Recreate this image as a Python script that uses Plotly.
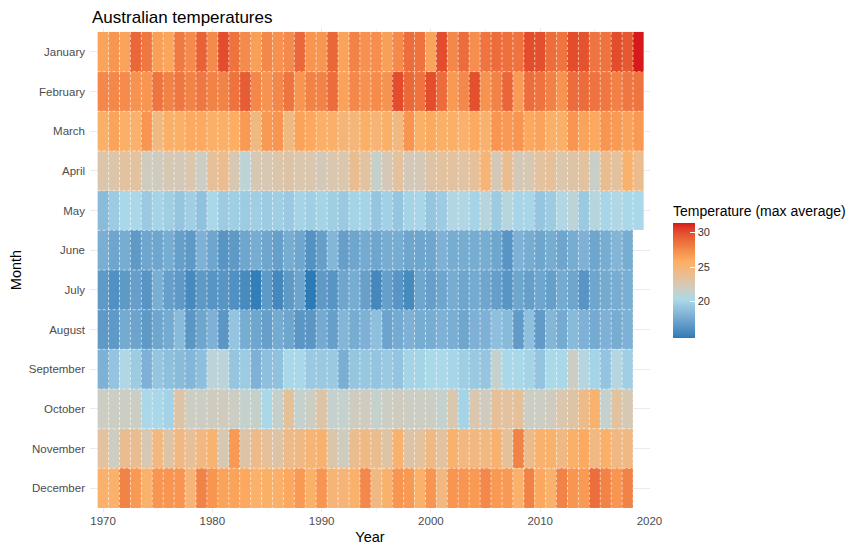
import plotly.graph_objects as go

years = list(range(1970, 2020))
months = ["January", "February", "March", "April", "May", "June", "July",
          "August", "September", "October", "November", "December"]

# monthly max average temperature, 1970..2019 (None = not yet recorded)
jan = [26.3, 27.0, 26.3, 29.0, 28.3, 26.5, 26.2, 28.2, 27.5, 29.2, 27.5, 30.0, 28.5, 27.5, 26.5, 27.6, 27.2,
       27.5, 28.9, 27.0, 27.0, 29.0, 26.3, 27.8, 27.2, 27.3, 26.5, 27.5, 28.7, 28.5, 26.3, 30.0, 27.6, 28.8,
       27.3, 28.4, 28.8, 28.6, 28.5, 30.0, 29.9, 28.7, 28.4, 30.0, 29.8, 28.4, 28.5, 30.0, 29.6, 31.4]
feb = [27.6, 27.6, 27.4, 27.1, 27.0, 28.4, 27.8, 28.3, 27.8, 28.3, 27.8, 27.8, 28.5, 29.4, 27.6, 27.1, 27.6,
       28.4, 27.0, 27.8, 27.8, 28.8, 26.4, 27.6, 27.2, 27.4, 27.1, 30.0, 28.9, 28.5, 30.0, 28.8, 26.8, 27.6,
       29.9, 27.1, 27.8, 29.1, 26.7, 28.7, 28.5, 27.9, 27.1, 28.8, 28.8, 28.5, 28.3, 27.9, 28.3, 28.4]
mar = [25.5, 26.3, 25.6, 25.4, 27.0, 24.5, 25.6, 25.6, 26.0, 26.0, 25.6, 25.6, 25.8, 26.8, 24.5, 26.8, 27.0,
       24.5, 26.3, 26.1, 25.6, 25.5, 25.0, 24.8, 25.6, 25.0, 25.6, 24.5, 27.0, 25.6, 26.0, 25.6, 25.6, 25.4,
       26.0, 25.3, 27.0, 26.8, 27.0, 26.1, 26.3, 25.5, 25.5, 27.0, 26.3, 26.1, 27.0, 26.8, 26.4, 26.8]
apr = [22.8, 22.8, 23.3, 23.3, 22.0, 22.0, 22.5, 22.3, 22.7, 21.8, 23.6, 23.9, 22.5, 21.1, 22.5, 22.5, 22.8,
       23.0, 22.7, 22.7, 22.3, 22.7, 22.7, 23.9, 23.2, 21.5, 22.3, 23.3, 22.3, 22.3, 23.0, 23.3, 23.3, 23.1,
       23.6, 24.9, 22.3, 23.9, 22.3, 22.5, 23.3, 23.6, 22.7, 23.0, 23.3, 21.6, 23.9, 23.3, 25.3, 24.0]
may = [18.6, 19.5, 20.2, 20.2, 19.4, 20.0, 19.7, 19.2, 19.7, 18.9, 20.2, 19.5, 19.7, 19.5, 19.7, 19.5, 19.7,
       19.4, 20.0, 19.7, 20.0, 19.7, 19.4, 20.0, 20.0, 19.2, 19.8, 19.2, 20.0, 20.1, 19.2, 19.5, 20.5, 20.5,
       20.0, 20.8, 19.5, 20.8, 20.1, 20.1, 19.2, 19.5, 20.5, 21.0, 19.4, 20.8, 20.1, 20.5, 20.2, 20.2]
jun = [17.8, 17.3, 17.7, 16.6, 17.3, 17.3, 17.7, 16.9, 16.6, 18.0, 17.3, 16.3, 16.6, 17.3, 17.7, 17.3, 16.9,
       17.7, 17.3, 16.1, 16.9, 18.3, 16.9, 17.3, 17.6, 17.3, 17.7, 17.7, 17.3, 17.3, 17.3, 18.0, 17.7, 17.7,
       17.7, 17.7, 17.3, 16.3, 18.0, 17.7, 17.3, 17.7, 17.3, 17.7, 18.0, 17.3, 17.7, 18.2, 17.7, None]
jul = [16.6, 16.0, 16.6, 16.9, 16.3, 17.8, 16.9, 16.6, 15.6, 16.6, 16.3, 16.3, 16.0, 15.7, 14.9, 16.6, 15.5,
       16.6, 17.2, 14.7, 16.6, 16.3, 17.3, 17.7, 17.0, 15.5, 16.9, 16.3, 15.6, 17.3, 16.9, 17.3, 17.7, 17.3,
       17.6, 17.3, 16.9, 16.3, 17.3, 16.9, 17.3, 16.9, 17.6, 17.3, 16.3, 17.3, 17.6, 17.7, 17.8, None]
aug = [16.6, 16.6, 17.6, 17.2, 16.6, 17.3, 17.6, 18.5, 16.4, 17.3, 18.0, 16.4, 19.1, 17.7, 17.3, 16.9, 17.6,
       17.3, 16.4, 16.4, 17.6, 16.9, 18.3, 17.7, 18.0, 18.8, 17.2, 17.6, 18.0, 17.7, 17.7, 18.0, 17.8, 17.3,
       18.0, 18.0, 18.8, 18.5, 16.7, 18.8, 16.7, 18.3, 17.6, 18.5, 18.0, 17.6, 18.0, 17.7, 18.0, None]
sep = [18.0, 19.1, 20.5, 19.5, 18.0, 19.2, 18.8, 18.6, 18.3, 18.8, 21.0, 20.9, 19.2, 19.5, 18.0, 18.8, 18.9,
       20.2, 20.2, 19.4, 19.4, 19.4, 17.8, 19.2, 19.3, 19.1, 19.4, 19.1, 20.0, 20.0, 20.3, 20.3, 20.1, 19.7,
       19.4, 19.2, 21.4, 20.2, 20.2, 20.0, 19.1, 20.3, 20.2, 21.8, 20.7, 20.0, 19.1, 20.7, 19.7, None]
oct = [21.8, 21.8, 21.8, 21.8, 20.2, 20.2, 19.9, 23.0, 21.8, 21.8, 22.0, 22.0, 21.8, 21.4, 21.5, 20.2, 21.5,
       23.5, 21.4, 21.8, 23.0, 21.4, 21.4, 22.0, 22.0, 21.4, 21.8, 22.0, 21.8, 21.8, 21.8, 21.4, 22.7, 20.0,
       22.7, 22.0, 23.6, 23.3, 23.5, 21.8, 21.8, 22.0, 22.7, 23.0, 24.2, 25.3, 21.4, 23.3, 22.5, None]
nov = [23.3, 21.8, 23.9, 23.9, 22.5, 24.6, 23.0, 24.4, 23.6, 24.6, 25.2, 22.5, 26.8, 23.0, 24.2, 23.6, 23.0,
       24.2, 24.4, 25.0, 25.3, 22.8, 22.0, 23.9, 24.4, 23.9, 23.0, 25.3, 23.0, 23.3, 24.4, 23.3, 25.3, 24.6,
       24.4, 24.6, 25.3, 23.6, 27.8, 24.2, 25.3, 25.4, 24.4, 25.5, 26.0, 24.4, 25.5, 24.4, 24.4, None]
dec = [25.4, 25.4, 27.8, 26.8, 25.4, 27.0, 27.0, 27.0, 25.0, 27.8, 27.0, 26.3, 26.3, 26.1, 25.4, 25.6, 25.5,
       26.1, 26.8, 25.6, 27.0, 25.0, 25.0, 25.4, 27.6, 24.4, 25.4, 27.0, 26.8, 25.4, 27.0, 24.6, 27.0, 27.0,
       26.8, 27.6, 26.8, 26.8, 25.4, 27.8, 26.1, 25.4, 27.8, 27.0, 26.8, 28.7, 27.8, 27.0, 27.8, None]

temps = [jan, feb, mar, apr, may, jun, jul, aug, sep, oct, nov, dec]
palette = ["#2c7bb6", "#abd9e9", "#fdae61", "#d7191c"]


# ggplot blends gradient colours in Lab space, so do the same here
def hex_to_lab(h):
    rgb = [int(h[i:i + 2], 16) / 255 for i in (1, 3, 5)]
    lin = [c / 12.92 if c <= 0.04045 else ((c + 0.055) / 1.055) ** 2.4 for c in rgb]
    x = (0.4124 * lin[0] + 0.3576 * lin[1] + 0.1805 * lin[2]) / 0.95047
    y = 0.2126 * lin[0] + 0.7152 * lin[1] + 0.0722 * lin[2]
    z = (0.0193 * lin[0] + 0.1192 * lin[1] + 0.9505 * lin[2]) / 1.08883
    f = lambda t: t ** (1 / 3) if t > 0.008856 else 7.787 * t + 16 / 116
    return 116 * f(y) - 16, 500 * (f(x) - f(y)), 200 * (f(y) - f(z))


def lab_to_rgb(lab):
    L, a, b = lab
    fy = (L + 16) / 116
    fx = fy + a / 500
    fz = fy - b / 200
    g = lambda t: t ** 3 if t ** 3 > 0.008856 else (t - 16 / 116) / 7.787
    x, y, z = g(fx) * 0.95047, g(fy), g(fz) * 1.08883
    lin = [3.2406 * x - 1.5372 * y - 0.4986 * z,
           -0.9689 * x + 1.8758 * y + 0.0415 * z,
           0.0557 * x - 0.2040 * y + 1.0570 * z]
    out = []
    for c in lin:
        c = 12.92 * c if c <= 0.0031308 else 1.055 * max(c, 0) ** (1 / 2.4) - 0.055
        out.append(int(round(min(max(c, 0), 1) * 255)))
    return f"rgb({out[0]},{out[1]},{out[2]})"


def lab_scale(colors, steps=10):
    labs = [hex_to_lab(c) for c in colors]
    n = len(labs) - 1
    scale = []
    for i in range(n):
        for s in range(steps):
            t = s / steps
            lab = [labs[i][k] + (labs[i + 1][k] - labs[i][k]) * t for k in range(3)]
            scale.append([(i + t) / n, lab_to_rgb(lab)])
    scale.append([1.0, lab_to_rgb(labs[-1])])
    return scale


vals = [v for row in temps for v in row if v is not None]
rows = list(range(len(months)))

fig = go.Figure()

fig.add_trace(go.Heatmap(
    x=years, y=rows, z=temps,
    zmin=min(vals), zmax=max(vals),
    colorscale=lab_scale(palette),
    hoverongaps=False,
    colorbar=dict(
        title=dict(text="Temperature (max average)", side="top",
                   font=dict(size=14, color="black")),
        tickvals=[20, 25, 30],
        ticks="inside", ticklen=5, tickcolor="white", tickwidth=1,
        tickfont=dict(size=11, color="#333333"),
        outlinewidth=0, thickness=22,
        lenmode="pixels", len=136,
        x=1.041, xanchor="left", xpad=0,
        y=0.5, yanchor="middle", ypad=0,
    ),
))

# dotted white tile borders
last = [max(y for y, v in zip(years, row) if v is not None) for row in temps]
bx, by = [], []
for yr in years[:-1]:
    bx += [yr + 0.5, yr + 0.5, None]
    by += [-0.5, len(months) - 0.5, None]
for i in rows[:-1]:
    bx += [years[0] - 0.5, max(last[i], last[i + 1]) + 0.5, None]
    by += [i + 0.5, i + 0.5, None]

fig.add_trace(go.Scatter(
    x=bx, y=by, mode="lines",
    line=dict(color="rgba(255,255,255,0.6)", width=1, dash="3px,2px"),
    hoverinfo="skip", showlegend=False,
))

# the page body adds an 8px offset, so margins are shifted to compensate
fig.update_layout(
    width=867, height=553,
    margin=dict(l=82, r=225, t=20, b=49),
    paper_bgcolor="white", plot_bgcolor="white",
    font=dict(family="Liberation Sans, Arial, sans-serif"),
    title=dict(text="Australian temperatures", x=84 / 867, xref="container", xanchor="left",
               y=1 - 3 / 553, yref="container", yanchor="top", pad=dict(t=0),
               font=dict(size=17, color="black")),
    xaxis=dict(
        range=[1968.8, 2020.05], tickvals=[1970, 1980, 1990, 2000, 2010, 2020],
        showgrid=True, gridcolor="#ebebeb", gridwidth=1, zeroline=False,
        minor=dict(tickvals=[1975, 1985, 1995, 2005, 2015], showgrid=True,
                   gridcolor="#f5f5f5", gridwidth=0.6),
        tickfont=dict(size=11.5, color="#4d4d4d"),
        title=dict(text="Year", font=dict(size=14.5, color="black"), standoff=6),
        ticks="", showline=False, automargin=False,
    ),
    yaxis=dict(
        range=[11.6, -0.6], tickvals=rows, ticktext=months,
        showgrid=True, gridcolor="#ebebeb", gridwidth=1, zeroline=False,
        tickfont=dict(size=11.5, color="#4d4d4d"), ticklabelstandoff=4,
        title=dict(text="Month", font=dict(size=14.5, color="black"), standoff=4),
        ticks="", showline=False, automargin=False,
    ),
)

fig.write_html("out.html")
